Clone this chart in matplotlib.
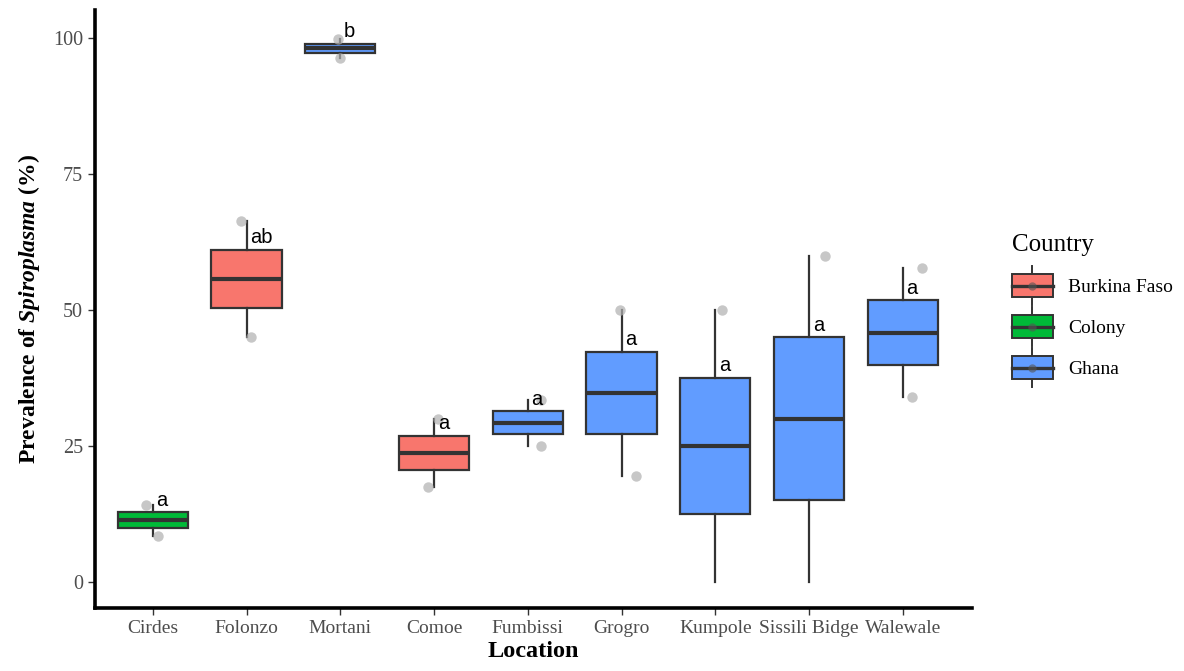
import matplotlib
matplotlib.use("Agg")
import matplotlib.pyplot as plt
import numpy as np
from matplotlib.legend_handler import HandlerBase
from matplotlib.patches import Rectangle, Patch
from matplotlib.lines import Line2D

plt.rcParams["font.family"] = ["Liberation Serif", "DejaVu Serif"]
plt.rcParams["mathtext.fontset"] = "custom"
plt.rcParams["mathtext.bfit"] = "Liberation Serif:bold:italic"
plt.rcParams["mathtext.it"] = "Liberation Serif:italic"
plt.rcParams["mathtext.bf"] = "Liberation Serif:bold"
plt.rcParams["mathtext.rm"] = "Liberation Serif"

locations = ["Cirdes", "Folonzo", "Mortani", "Comoe", "Fumbissi", "Grogro",
             "Kumpole", "Sissili Bidge", "Walewale"]
country = ["Colony", "Burkina Faso", "Burkina Faso", "Burkina Faso", "Ghana",
           "Ghana", "Ghana", "Ghana", "Ghana"]
# two samples per location (prevalence %)
prev_hi = [14.2, 66.4, 99.9, 30.0, 33.5, 50.0, 50.0, 60.0, 57.7]
prev_lo = [8.5, 45.1, 96.4, 17.4, 25.0, 19.5, 0.0, 0.0, 34.0]
letters = ["a", "ab", "b", "a", "a", "a", "a", "a", "a"]

colors = {"Burkina Faso": "#F8766D", "Colony": "#00BA38", "Ghana": "#619CFF"}
country_order = ["Burkina Faso", "Colony", "Ghana"]
mortani_fill = "#619CFF"

# horizontal jitter of the raw points (hi, lo)
jit_hi = [-0.07, -0.06, -0.02, 0.04, 0.14, -0.02, 0.07, 0.17, 0.21]
jit_lo = [0.06, 0.05, 0.0, -0.06, 0.14, 0.15, 0.0, 0.0, 0.10]

edge = "#333333"
pos = np.arange(1, len(locations) + 1)
data = [[lo, hi] for lo, hi in zip(prev_lo, prev_hi)]

fig = plt.figure(figsize=(11.84, 6.71), dpi=100)
ax = fig.add_axes([0.080, 0.094, 0.741, 0.891])

bp = ax.boxplot(data, positions=pos, widths=0.75, patch_artist=True,
                whis=1.5, showfliers=False, showcaps=False,
                medianprops=dict(color=edge, linewidth=3),
                whiskerprops=dict(color=edge, linewidth=1.6),
                boxprops=dict(edgecolor=edge, linewidth=1.6))
for i, box in enumerate(bp["boxes"]):
    fc = colors[country[i]]
    if locations[i] == "Mortani":
        fc = mortani_fill
    box.set_facecolor(fc)

for i, p in enumerate(pos):
    for v, j in ((prev_hi[i], jit_hi[i]), (prev_lo[i], jit_lo[i])):
        if v == 0:
            continue
        ax.plot(p + j, v, "o", color="#b0b0b0", alpha=0.7, ms=7.5,
                mec="none", zorder=4)
    q3 = np.percentile(data[i], 75)
    ax.text(p + 0.04, q3 + 0.5, letters[i], ha="left", va="bottom",
            fontsize=14.5, family=["Liberation Sans", "DejaVu Sans"], zorder=5)

ax.set_xlim(0.38, 9.74)
ax.set_ylim(-4.8, 105.2)
ax.set_xticks(pos)
ax.set_xticklabels(locations, fontsize=14, color="#4d4d4d")
ax.set_yticks([0, 25, 50, 75, 100])
ax.tick_params(axis="y", labelsize=14.5, labelcolor="#4d4d4d",
               length=5, width=1, color="#333333")
ax.tick_params(axis="x", length=5, width=1, color="#333333")
for s in ["top", "right"]:
    ax.spines[s].set_visible(False)
for s in ["left", "bottom"]:
    ax.spines[s].set_linewidth(2.6)
    ax.spines[s].set_color("black")

ax.set_xlabel("Location", fontsize=17.5, fontweight="bold", labelpad=3)
ax.set_ylabel(r"Prevalence of $\bfit{Spiroplasma}$ (%)", fontsize=17,
              fontweight="bold", labelpad=8)


class BoxHandler(HandlerBase):
    def create_artists(self, legend, orig_handle, xdescent, ydescent,
                       width, height, fontsize, trans):
        fc = orig_handle.get_facecolor()
        cx = width / 2 - xdescent
        bh = height * 1.15
        by = (height - bh) / 2 - ydescent
        wl = Line2D([cx, cx], [by - height * 0.4, by + bh + height * 0.4],
                    color=edge, lw=1.4, transform=trans)
        r = Rectangle((-xdescent, by), width, bh, facecolor=fc,
                      edgecolor=edge, lw=1.4, transform=trans)
        med = Line2D([-xdescent, width - xdescent], [by + bh / 2] * 2,
                     color=edge, lw=2.4, transform=trans)
        dot = Line2D([cx], [by + bh / 2], marker="o", ms=6, color="#555555",
                     alpha=0.6, mec="none", transform=trans)
        return [wl, r, med, dot]


handles = [Patch(facecolor=colors[c]) for c in country_order]
leg = fig.legend(handles, country_order, handler_map={Patch: BoxHandler()},
                 loc="upper left", bbox_to_anchor=(0.84, 0.677),
                 frameon=False, title="Country", fontsize=14,
                 title_fontsize=18, handlelength=2.1, handleheight=1.2,
                 labelspacing=1.05, handletextpad=0.8)
leg._legend_box.align = "left"
leg._legend_box.sep = 14

fig.savefig("out.png", dpi=100)
